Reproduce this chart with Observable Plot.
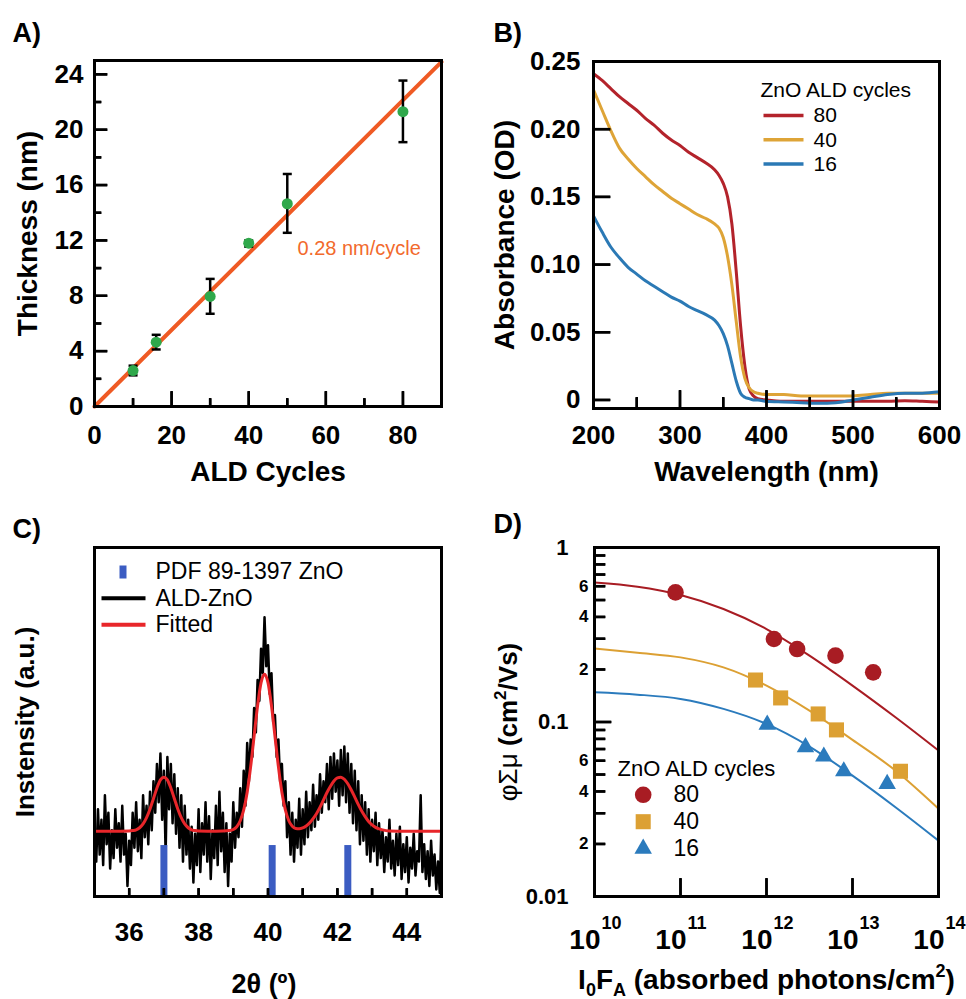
<!DOCTYPE html>
<html><head><meta charset="utf-8">
<script src="https://cdn.jsdelivr.net/npm/d3@7"></script>
<script src="https://cdn.jsdelivr.net/npm/@observablehq/plot@0.6"></script>
<style>
body{margin:0;background:#fff;}
#fig{position:relative;width:966px;height:999px;overflow:hidden;background:#fff;}
.panel{position:absolute;}
</style></head><body>
<div id="fig"></div>
<script>
// ---------------- Panel A: thickness vs ALD cycles ----------------
const cyclesA = [10, 16, 30, 40, 50, 80];
const thickA  = [2.6, 4.65, 7.95, 11.8, 14.65, 21.3];
const errLoA  = [2.25, 4.12, 6.7, 11.55, 12.55, 19.1];
const errHiA  = [2.95, 5.18, 9.22, 12.0, 16.8, 23.55];
const fitCyclesA = [0, 90];
const fitThickA  = [0, 24.9];
const xTicksA = [0, 20, 40, 60, 80];
const xMinorA = [10, 30, 50, 70];
const yTicksA = [0, 4, 8, 12, 16, 20, 24];
const yMinorA = [2, 6, 10, 14, 18, 22];

// ---------------- Panel B: absorbance spectra ----------------
const wavelengthB = [200,210,220,230,240,250,260,270,280,290,300,310,320,330,340,345,350,355,360,365,370,375,380,385,390,400,420,440,460,480,500,520,540,560,580,600];
const abs80B = [0.241,0.236,0.230,0.224,0.219,0.214,0.208,0.203,0.197,0.192,0.188,0.183,0.179,0.175,0.170,0.166,0.160,0.150,0.130,0.095,0.055,0.025,0.008,0.003,0.001,0.000,-0.001,-0.001,-0.001,-0.001,-0.001,-0.001,-0.001,-0.0005,-0.001,-0.0015];
const abs40B = [0.229,0.214,0.199,0.186,0.178,0.171,0.165,0.159,0.154,0.149,0.145,0.141,0.137,0.134,0.130,0.127,0.120,0.106,0.085,0.058,0.032,0.016,0.009,0.006,0.005,0.004,0.004,0.003,0.003,0.003,0.003,0.004,0.005,0.005,0.005,0.005];
const abs16B = [0.136,0.124,0.113,0.105,0.098,0.093,0.088,0.084,0.080,0.076,0.073,0.069,0.066,0.063,0.059,0.055,0.049,0.040,0.027,0.014,0.005,0.002,0.001,0.000,0.000,-0.001,-0.0015,-0.002,-0.0025,-0.002,0.000,0.002,0.004,0.005,0.005,0.006];
const seriesB = ["80", "40", "16"];
const colorsB = ["#b3232b", "#dea437", "#2b79b5"];
const xTicksB = [200, 300, 400, 500, 600];
const xMinorB = [250, 350, 450, 550];
const yTicksB = [0, 0.05, 0.10, 0.15, 0.20, 0.25];
const yTickLabelsB = ["0", "0.05", "0.10", "0.15", "0.20", "0.25"];

// ---------------- Panel C: XRD ----------------
const angleStartC = 35, angleStepC = 0.05;
const intensityC = [
 20,10,25,12,22,9,29,15,24,8,19,11,25,14,21,10,26,12,18,3,
 16,9,24,14,27,13,22,11,29,17,26,15,30,19,33,24,38,27,41,22,
 36,12,40,25,38,21,35,18,31,14,29,10,26,12,22,8,20,4,18,9,
 25,7,21,12,27,10,23,5,19,11,26,9,30,13,24,7,21,3,18,10,
 27,14,24,17,31,20,36,26,44,33,45,40,54,47,62,56,71,64,80,66,
 72,58,64,50,52,40,45,33,38,26,33,17,27,12,24,10,22,14,28,12,
 25,15,30,17,27,19,32,20,29,22,35,24,33,27,38,25,40,28,41,30,
 39,26,42,29,43,27,41,24,38,21,36,19,33,15,29,16,27,12,25,10,
 22,13,24,9,21,11,19,7,17,10,22,8,16,6,18,9,20,5,15,7,
 17,4,14,8,18,6,13,10,29,7,15,5,13,3,16,6,12,2,10,1,
 22];
const fitAngleC = [35,35.5,36,36.1,36.2,36.3,36.4,36.5,36.6,36.7,36.8,36.9,37,37.1,37.2,37.3,37.4,37.5,37.6,37.7,37.8,37.9,38,38.5,38.9,39,39.1,39.2,39.3,39.4,39.5,39.6,39.7,39.8,39.9,40,40.1,40.2,40.3,40.4,40.5,40.6,40.7,40.8,40.9,41,41.1,41.2,41.3,41.4,41.5,41.6,41.7,41.8,41.9,42,42.1,42.2,42.3,42.4,42.5,42.6,42.7,42.8,42.9,43,43.1,43.2,43.3,43.5,44,45];
const fitIntC = [18.7,18.7,18.8,18.9,19.1,19.7,20.8,22.6,25.1,28.1,31.1,33.4,34.2,33.4,31.1,28.1,25.1,22.6,20.8,19.7,19.1,18.9,18.8,18.7,18.9,19.2,20.0,21.7,24.8,29.9,37.2,46.0,54.7,61.3,63.7,61.3,54.7,46.0,37.2,29.9,24.8,21.7,20.15,19.5,19.4,19.65,20.2,21.1,22.3,23.8,25.6,27.7,29.8,31.6,33.1,34.0,34.2,33.6,32.3,30.5,28.5,26.4,24.5,22.9,21.5,20.5,19.8,19.4,19.1,18.8,18.7,18.7];
const refAngleC = [37.0, 40.12, 42.3];
const refHeightC = [14.6, 14.6, 14.6];
const xTicksC = [36, 38, 40, 42, 44];
const xMinorC = [36, 37, 38, 39, 40, 41, 42, 43, 44];
const legendC = ["PDF 89-1397 ZnO", "ALD-ZnO", "Fitted"];

// ---------------- Panel D: TRMC ----------------
const fluence80D = [8.75e10, 1.22e12, 2.27e12, 6.34e12, 1.74e13];
const mob80D     = [0.553, 0.299, 0.262, 0.240, 0.1925];
const fluence40D = [7.45e11, 1.46e12, 3.99e12, 6.51e12, 3.61e13];
const mob40D     = [0.174, 0.1374, 0.1112, 0.0901, 0.0522];
const fluence16D = [1.02e12, 2.84e12, 4.64e12, 7.92e12, 2.53e13];
const mob16D     = [0.0966, 0.0717, 0.0634, 0.0522, 0.0442];
const fitFluenceD = [1e10, 3.16e10, 1e11, 3.16e11, 1e12, 3.16e12, 1e13, 3.16e13, 1e14];
const fit80D = [0.630, 0.596, 0.534, 0.444, 0.341, 0.240, 0.1616, 0.1064, 0.0686];
const fit40D = [0.264, 0.2496, 0.2346, 0.2056, 0.1616, 0.1162, 0.079, 0.0527, 0.0318];
const fit16D = [0.148, 0.1435, 0.1356, 0.1189, 0.0975, 0.0723, 0.0493, 0.0325, 0.0209];
const seriesD = ["80", "40", "16"];
const colorsD = ["#a81c23", "#dca033", "#2b7bbd"];
const xTicksD = [1e10, 1e11, 1e12, 1e13, 1e14];
const xExpD = ["10", "11", "12", "13", "14"];
const xInnerTicksD = [1e11, 1e12, 1e13];
const yMajorD = [1, 0.1, 0.01];
const yMajorLabelsD = ["1", "0.1", "0.01"];
const yMinorD = [0.02,0.03,0.04,0.05,0.06,0.07,0.08,0.09,0.2,0.3,0.4,0.5,0.6,0.7,0.8,0.9];
const yMinorLabelD = [0.6, 0.4, 0.2, 0.06, 0.04, 0.02];
const yMinorLabelTextD = ["6", "4", "2", "6", "4", "2"];

// ---------------- helpers ----------------
const FONT = "'Liberation Sans', Arial, Helvetica, sans-serif";
const box = (x0, y0, x1, y1) => ({draw(ctx) { ctx.moveTo(x0, y0); ctx.lineTo(x1, y0); ctx.lineTo(x1, y1); ctx.lineTo(x0, y1); ctx.closePath(); }});
const tickUp = (L, w) => box(-w / 2, 0, w / 2, -L);
const tickRight = (L, w) => box(0, -w / 2, L, w / 2);
const hBar = (L, w) => box(-L / 2, -w / 2, L / 2, w / 2);
const vBar = (L, w) => box(-w / 2, -L / 2, w / 2, L / 2);

// tick extent: from the domain start, spanning `len` pixels of a frame `px` pixels long
function tickRows(vals, len, dom, px, log) {
  const a = dom[0];
  const b = log ? a * Math.pow(dom[1] / dom[0], len / px) : a + len * (dom[1] - dom[0]) / px;
  return vals.map(v => ({v, a, b}));
}
// inward ticks, drawn twice (rule lines plus filled symbols) at the same place
const ticksX = (vals, len, yDom, H, log = false) => [
  Plot.ruleX(tickRows(vals, len, yDom, H, log), {x: "v", y1: "a", y2: "b", stroke: "black", strokeWidth: 2.5}),
  Plot.dot(vals, {x: d => d, y: () => yDom[0], symbol: tickUp(len, 2.5), r: 1, fill: "black", stroke: "none"})
];
const ticksY = (vals, len, xDom, W, log = false) => [
  Plot.ruleY(tickRows(vals, len, xDom, W, log), {y: "v", x1: "a", x2: "b", stroke: "black", strokeWidth: 2.5}),
  Plot.dot(vals, {x: () => xDom[0], y: d => d, symbol: tickRight(len, 2.5), r: 1, fill: "black", stroke: "none"})
];
const labelsX = (vals, text, pad, size) => Plot.text(vals, {x: d => d, frameAnchor: "bottom", dy: pad, textAnchor: "middle", lineAnchor: "top", text, fontSize: size, fontWeight: "bold"});
const labelsY = (vals, text, pad, size) => Plot.text(vals, {y: d => d, frameAnchor: "left", dx: -pad, textAnchor: "end", lineAnchor: "middle", text, fontSize: size, fontWeight: "bold"});
const note = (str, o) => Plot.text([str], {text: d => d, ...o});
const yTitle = (str, dx, size) => note(str, {frameAnchor: "left", dx, rotate: -90, textAnchor: "middle", lineAnchor: "middle", fontSize: size, fontWeight: "bold"});
const xTitle = (str, dy, size, dx = 0) => note(str, {frameAnchor: "bottom", dx, dy, textAnchor: "middle", lineAnchor: "bottom", fontSize: size, fontWeight: "bold"});
const panelTag = (str, dx, dy) => note(str, {frameAnchor: "top-left", dx, dy, textAnchor: "start", lineAnchor: "bottom", fontSize: 27, fontWeight: "bold"});
const legendSwatch = (key, dx, dy, symbol, color) => Plot.dot([key], {frameAnchor: "top-left", dx, dy, symbol, r: 1, fill: color, stroke: "none"});
const frame = () => Plot.frame({stroke: "black", strokeWidth: 3});
const baseStyle = {fontFamily: FONT, overflow: "visible", background: "transparent", color: "black"};

function place(svg, left, top) {
  const d = document.createElement("div");
  d.className = "panel";
  d.style.left = left + "px";
  d.style.top = top + "px";
  d.appendChild(svg);
  document.getElementById("fig").appendChild(d);
}
function richen(svg, plain, parts) {
  d3.select(svg).selectAll("text").filter(function() { return this.textContent === plain; }).each(function() {
    const t = d3.select(this);
    t.text(null);
    parts.forEach(p => {
      const s = t.append("tspan").text(p.t);
      if (p.dy) s.attr("dy", p.dy);
      if (p.fs) s.attr("font-size", p.fs);
      if (p.fw) s.attr("font-weight", p.fw);
    });
  });
}

// ---------------- Panel A ----------------
const xDomA = [0, 90], yDomA = [0, 25];
const HA = 490 - 60 - 84, WA = 480 - 94 - 39;
const rowsA = cyclesA.map((c, i) => ({c, t: thickA[i], lo: errLoA[i], hi: errHiA[i]}));
const fitRowsA = fitCyclesA.map((c, i) => ({c, t: fitThickA[i]}));
const svgA = Plot.plot({
  width: 480, height: 490, marginLeft: 94, marginRight: 39, marginTop: 60, marginBottom: 84,
  x: {domain: xDomA, axis: null}, y: {domain: yDomA, axis: null},
  style: baseStyle,
  marks: [
    Plot.line(fitRowsA, {x: "c", y: "t", stroke: "#ef5a24", strokeWidth: 4}),
    Plot.ruleX(rowsA, {x: "c", y1: "lo", y2: "hi", stroke: "black", strokeWidth: 2.5}),
    Plot.dot(rowsA, {x: "c", y: "lo", symbol: hBar(9, 2.5), r: 1, fill: "black", stroke: "none"}),
    Plot.dot(rowsA, {x: "c", y: "hi", symbol: hBar(9, 2.5), r: 1, fill: "black", stroke: "none"}),
    Plot.dot(rowsA, {x: "c", y: "t", r: 5.5, fill: "#2fa84b"}),
    ...ticksX(xTicksA, 15, yDomA, HA), ...ticksX(xMinorA, 8, yDomA, HA),
    ...ticksY(yTicksA, 13, xDomA, WA), ...ticksY(yMinorA, 7, xDomA, WA),
    labelsX(xTicksA, d => String(d), 19, 26),
    labelsY(yTicksA, d => String(d), 11, 26),
    note("0.28 nm/cycle", {frameAnchor: "top-left", dx: 203, dy: 188, textAnchor: "start", lineAnchor: "middle", fontSize: 20, fill: "#f26a2d"}),
    yTitle("Thickness (nm)", -66, 28),
    xTitle("ALD Cycles", 74, 28),
    panelTag("A)", -82, -19),
    frame()
  ]
});
place(svgA, 0, 0);

// ---------------- Panel B ----------------
const xDomB = [200, 600], yDomB = [-0.0063, 0.25];
const HB = 490 - 61 - 82, WB = 486 - 113 - 27;
const absB = [abs80B, abs40B, abs16B];
const svgB = Plot.plot({
  width: 486, height: 490, marginLeft: 113, marginRight: 27, marginTop: 61, marginBottom: 82,
  x: {domain: xDomB, axis: null}, y: {domain: yDomB, axis: null},
  style: baseStyle,
  marks: [
    ...absB.map((arr, k) => Plot.line(wavelengthB.map((w, i) => ({w, a: arr[i]})), {x: "w", y: "a", stroke: colorsB[k], strokeWidth: 3, curve: "monotone-x"})),
    ...ticksX(xTicksB, 18, yDomB, HB), ...ticksX(xMinorB, 11, yDomB, HB),
    ...ticksY(yTicksB, 17, xDomB, WB),
    labelsX(xTicksB, d => String(d), 17, 26),
    labelsY(yTicksB, (d, i) => yTickLabelsB[i], 13, 26),
    note("ZnO ALD cycles", {frameAnchor: "top-left", dx: 167, dy: 35.7, textAnchor: "start", lineAnchor: "bottom", fontSize: 21}),
    ...seriesB.map((s, i) => [
      legendSwatch(s, 170, 54 + 24.3 * i, tickRight(40, 3.5), colorsB[i]),
      note(s, {frameAnchor: "top-left", dx: 220, dy: 54 + 24.3 * i, textAnchor: "start", lineAnchor: "middle", fontSize: 21})
    ]).flat(),
    yTitle("Absorbance (OD)", -88, 28),
    xTitle("Wavelength (nm)", 72, 28),
    panelTag("B)", -100, -20),
    frame()
  ]
});
place(svgB, 480, 0);

// ---------------- Panel C ----------------
const xDomC = [35, 45], yDomC = [0, 100];
const HC = 499 - 47 - 103;
const traceC = intensityC.map((v, i) => ({a: angleStartC + i * angleStepC, v}));
const fitRowsC = fitAngleC.map((a, i) => ({a, v: fitIntC[i]}));
const refRowsC = refAngleC.map((a, i) => ({a, h: refHeightC[i]}));
const legendColorsC = ["#3b5cc2", "black", "#e8262a"];
const svgC = Plot.plot({
  width: 480, height: 499, marginLeft: 94, marginRight: 39, marginTop: 47, marginBottom: 103,
  x: {domain: xDomC, axis: null}, y: {domain: yDomC, axis: null},
  style: baseStyle,
  marks: [
    Plot.line(traceC, {x: "a", y: "v", stroke: "black", strokeWidth: 2.5}),
    Plot.ruleX(refRowsC, {x: "a", y1: 0, y2: "h", stroke: "#3b5cc2", strokeWidth: 7}),
    Plot.line(fitRowsC, {x: "a", y: "v", stroke: "#e8262a", strokeWidth: 3, curve: "monotone-x"}),
    ...ticksX(xMinorC, 8, yDomC, HC),
    labelsX(xTicksC, d => String(d), 26, 26),
    legendSwatch(legendC[0], 28.5, 24.5, vBar(13, 7), legendColorsC[0]),
    legendSwatch(legendC[1], 7, 50.7, tickRight(44, 4), legendColorsC[1]),
    legendSwatch(legendC[2], 7, 77.3, tickRight(44, 4), legendColorsC[2]),
    ...legendC.map((s, i) => note(s, {frameAnchor: "top-left", dx: 61, dy: [23.7, 50.7, 77.3][i], textAnchor: "start", lineAnchor: "middle", fontSize: 23})),
    yTitle("Instensity (a.u.)", -69, 26),
    xTitle("2θ (º)", 96, 27, -4),
    panelTag("C)", -82, -10),
    frame()
  ]
});
place(svgC, 0, 500);

// ---------------- Panel D ----------------
const xDomD = [1e10, 1e14], yDomD = [0.01, 1];
const HD = 499 - 47 - 103, WD = 486 - 114 - 28;
const ptsD = [[fluence80D, mob80D], [fluence40D, mob40D], [fluence16D, mob16D]];
const fitsD = [fit80D, fit40D, fit16D];
const symD = ["circle", "square", "triangle"];
const rD = [8.3, 8.5, 6.5];
const svgD = Plot.plot({
  width: 486, height: 499, marginLeft: 114, marginRight: 28, marginTop: 47, marginBottom: 103,
  x: {type: "log", domain: xDomD, axis: null}, y: {type: "log", domain: yDomD, axis: null},
  style: baseStyle,
  marks: [
    ...fitsD.map((arr, k) => Plot.line(fitFluenceD.map((f, i) => ({f, m: arr[i]})), {x: "f", y: "m", stroke: colorsD[k], strokeWidth: 2, curve: "catmull-rom"})),
    ...ptsD.map(([F, M], k) => Plot.dot(F.map((f, i) => ({f, m: M[i]})), {x: "f", y: "m", symbol: symD[k], r: rD[k], fill: colorsD[k], stroke: "none"})),
    ...ticksX(xInnerTicksD, 18, yDomD, HD, true),
    ...ticksY(yMajorD, 17, xDomD, WD, true), ...ticksY(yMinorD, 11, xDomD, WD, true),
    labelsY(yMajorD, (d, i) => yMajorLabelsD[i], 26, 22),
    labelsY(yMinorLabelD, (d, i) => yMinorLabelTextD[i], 6, 17),
    Plot.text(xTicksD, {x: d => d, frameAnchor: "bottom", dx: 6, dy: 52, textAnchor: "end", lineAnchor: "bottom", text: () => "10", fontSize: 28, fontWeight: "bold"}),
    Plot.text(xTicksD, {x: d => d, frameAnchor: "bottom", dx: 7, dy: 32, textAnchor: "start", lineAnchor: "bottom", text: (d, i) => xExpD[i], fontSize: 18, fontWeight: "bold"}),
    note("ZnO ALD cycles", {frameAnchor: "top-left", dx: 23, dy: 221.6, textAnchor: "start", lineAnchor: "middle", fontSize: 22}),
    ...seriesD.map((s, i) => [
      Plot.dot([s], {frameAnchor: "top-left", dx: 48.7, dy: 247.3 + 26.9 * i, symbol: symD[i], r: rD[i], fill: colorsD[i], stroke: "none"}),
      note(s, {frameAnchor: "top-left", dx: 79, dy: 247.3 + 26.9 * i, textAnchor: "start", lineAnchor: "middle", fontSize: 23})
    ]).flat(),
    yTitle("φΣμ (cm2/Vs)", -86, 26),
    xTitle("I0FA (absorbed photons/cm2)", 92, 28),
    panelTag("D)", -101, -15),
    frame()
  ]
});
richen(svgD, "φΣμ (cm2/Vs)", [
  {t: "φΣμ", fw: "normal"}, {t: " (cm"}, {t: "2", dy: "-11", fs: "17px"}, {t: "/Vs)", dy: "11"}
]);
richen(svgD, "I0FA (absorbed photons/cm2)", [
  {t: "I"}, {t: "0", dy: "7", fs: "18px"}, {t: "F", dy: "-7"}, {t: "A", dy: "7", fs: "18px"},
  {t: " (absorbed photons/cm", dy: "-7"}, {t: "2", dy: "-12", fs: "18px"}, {t: ")", dy: "12"}
]);
place(svgD, 480, 500);
</script>
</body></html>
